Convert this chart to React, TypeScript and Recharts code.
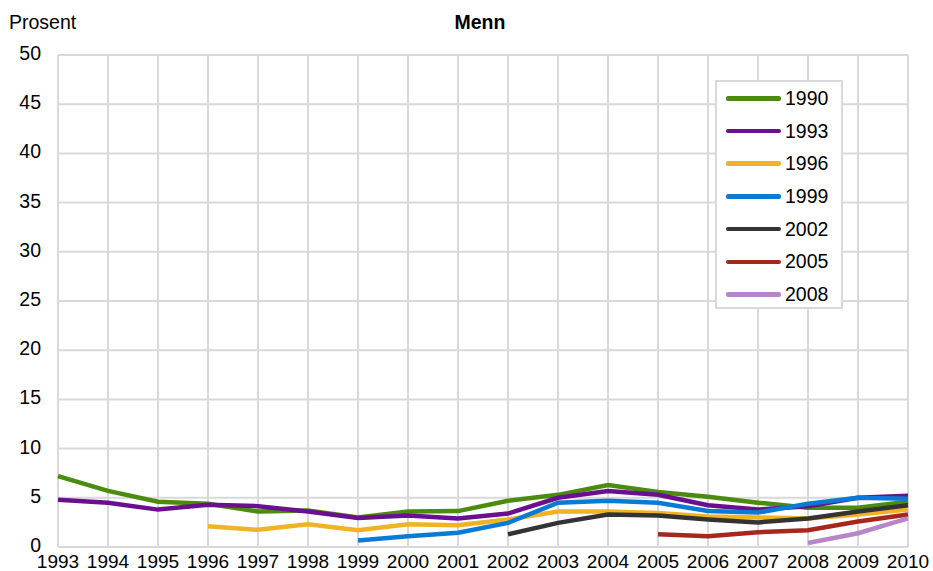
import React from "react";
import { LineChart, Line, XAxis, YAxis, CartesianGrid } from "recharts";

const years = [
  "1993", "1994", "1995", "1996", "1997", "1998", "1999", "2000", "2001",
  "2002", "2003", "2004", "2005", "2006", "2007", "2008", "2009", "2010",
];

const cohort1990 = [7.2, 5.7, 4.6, 4.4, 3.6, 3.7, 3.0, 3.6, 3.65, 4.7, 5.3, 6.3, 5.6, 5.1, 4.5, 4.0, 4.0, 4.6];
const cohort1993 = [4.8, 4.5, 3.8, 4.3, 4.15, 3.6, 2.95, 3.2, 2.9, 3.4, 5.0, 5.7, 5.3, 4.25, 3.8, 4.15, 5.0, 5.2];
const cohort1996 = [null, null, null, 2.1, 1.75, 2.3, 1.7, 2.3, 2.2, 2.8, 3.6, 3.6, 3.45, 3.1, 3.0, 2.9, 3.3, 3.8];
const cohort1999 = [null, null, null, null, null, null, 0.65, 1.1, 1.45, 2.45, 4.5, 4.7, 4.5, 3.65, 3.5, 4.4, 5.0, 4.9];
const cohort2002 = [null, null, null, null, null, null, null, null, null, 1.3, 2.45, 3.3, 3.2, 2.8, 2.5, 2.9, 3.6, 4.25];
const cohort2005 = [null, null, null, null, null, null, null, null, null, null, null, null, 1.3, 1.1, 1.5, 1.7, 2.6, 3.3];
const cohort2008 = [null, null, null, null, null, null, null, null, null, null, null, null, null, null, null, 0.4, 1.4, 2.9];

const yTicks = [0, 5, 10, 15, 20, 25, 30, 35, 40, 45, 50];

const series = [
  { key: "1990", values: cohort1990, color: "#4b8b0d" },
  { key: "1993", values: cohort1993, color: "#6a0f8e" },
  { key: "1996", values: cohort1996, color: "#f0b323" },
  { key: "1999", values: cohort1999, color: "#0a7bd4" },
  { key: "2002", values: cohort2002, color: "#333333" },
  { key: "2005", values: cohort2005, color: "#a8271d" },
  { key: "2008", values: cohort2008, color: "#b786c8" },
];

const data = years.map((year, i) => {
  const row: Record<string, string | number | null> = { year };
  series.forEach((s) => {
    row[s.key] = s.values[i];
  });
  return row;
});

const font = "'Liberation Sans', Arial, sans-serif";
const grid = "#d9d9d9";
const fs = 19;

const XTick = (props: any) => {
  const { x, y, payload } = props;
  return (
    <text x={x} y={y + 21} textAnchor="middle" fontSize={fs} fontFamily={font} fill="#000">
      {payload.value}
    </text>
  );
};

const YTick = (props: any) => {
  const { y, payload } = props;
  return (
    <text x={41} y={y + 5} textAnchor="end" fontSize={fs + 0.5} fontFamily={font} fill="#000">
      {payload.value}
    </text>
  );
};

// legend box drawn over the plot, top right
const LegendBox = () => (
  <div
    style={{
      position: "absolute",
      left: 715,
      top: 80,
      width: 124,
      height: 225,
      border: `2px solid ${grid}`,
      background: "#fff",
    }}
  >
    {series.map((s) => (
      <div key={s.key} style={{ display: "flex", alignItems: "center", height: 32.7 }}>
        <div style={{ width: 55, height: 4.5, borderRadius: 2, background: s.color, marginLeft: 9, marginRight: 4 }} />
        <span style={{ fontFamily: font, fontSize: fs + 0.5, color: "#000" }}>{s.key}</span>
      </div>
    ))}
  </div>
);

export default function App() {
  return (
    <div style={{ position: "absolute", left: 0, top: 0, width: 933, height: 571, background: "#fff" }}>
      <LineChart width={933} height={571} data={data} margin={{ top: 55, right: 25, left: 0, bottom: 0 }}>
        <CartesianGrid stroke={grid} strokeWidth={2} vertical horizontal />
        <XAxis
          dataKey="year"
          interval={0}
          height={24}
          tickSize={0}
          tickMargin={0}
          tickLine={false}
          axisLine={{ stroke: grid, strokeWidth: 2 }}
          tick={<XTick />}
        />
        <YAxis
          width={58}
          domain={[0, 50]}
          ticks={yTicks}
          interval={0}
          tickLine={false}
          axisLine={false}
          tick={<YTick />}
        />
        {series.map((s) => (
          <Line
            key={s.key}
            dataKey={s.key}
            stroke={s.color}
            strokeWidth={4.5}
            dot={false}
            activeDot={false}
            isAnimationActive={false}
            connectNulls={false}
          />
        ))}
      </LineChart>
      <div style={{ position: "absolute", left: 9, top: 11, fontFamily: font, fontSize: fs + 0.5 }}>Prosent</div>
      <div
        style={{
          position: "absolute",
          left: 0,
          width: 960,
          top: 11,
          textAlign: "center",
          fontFamily: font,
          fontSize: fs + 0.5,
          fontWeight: "bold",
        }}
      >
        Menn
      </div>
      <LegendBox />
    </div>
  );
}
